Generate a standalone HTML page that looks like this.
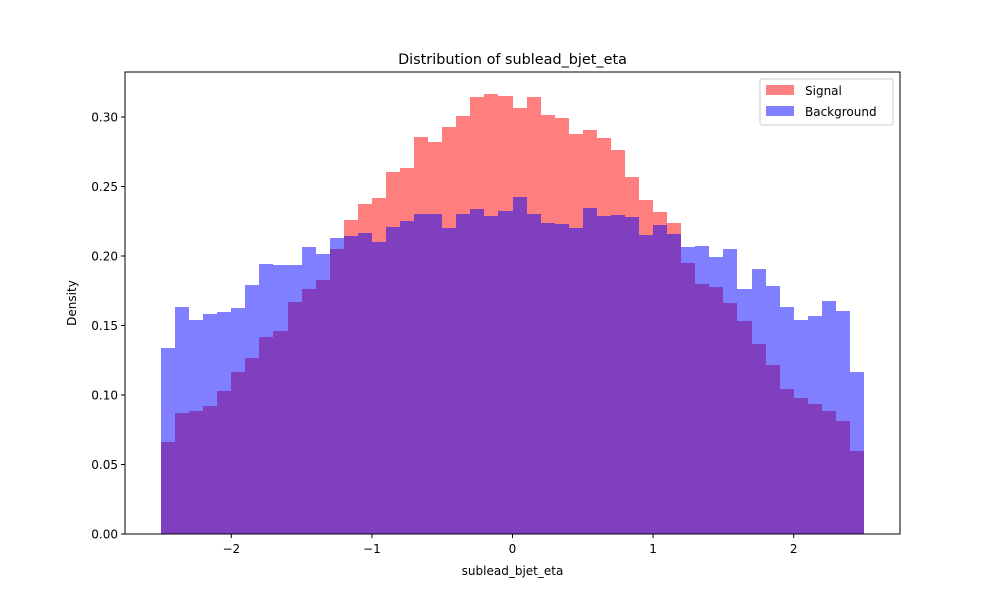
<!DOCTYPE html>
<html><head><meta charset="utf-8"><style>
body{margin:0;background:#fff;}
svg{font-family:"DejaVu Sans","Liberation Sans",sans-serif;}
</style></head><body>
<svg id="chart" width="1000" height="600" xmlns="http://www.w3.org/2000/svg">
<rect width="1000" height="600" fill="#fff"/>
<g id="bars" shape-rendering="crispEdges"></g>
<g id="axes"></g>
<text x="512.5" y="64" text-anchor="middle" font-size="14.4">Distribution of sublead_bjet_eta</text>
<text x="512.5" y="575" text-anchor="middle" font-size="12">sublead_bjet_eta</text>
<text transform="translate(76,303) rotate(-90)" text-anchor="middle" font-size="12">Density</text>
<g>
<rect x="760" y="79" width="133" height="46" rx="2" fill="#fff" fill-opacity="0.8" stroke="#ccc"/>
<g><rect x="766" y="85" width="28" height="10" fill="#ff8080"/><text x="805" y="95" font-size="12">Signal</text></g>
<g><rect x="766" y="106" width="28" height="10" fill="#8080ff"/><text x="805" y="116" font-size="12">Background</text></g>
</g>
</svg>
<script>
const binStart = -2.5;
const binWidth = 0.1;
const signal = [0.066,0.087,0.0885,0.092,0.103,0.1165,0.1265,0.1415,0.146,0.167,0.176,0.1827,0.205,0.226,0.2375,0.2417,0.2604,0.2633,0.2856,0.282,0.2928,0.3007,0.3144,0.3165,0.3151,0.3065,0.3144,0.3014,0.2993,0.2878,0.2906,0.2849,0.2763,0.2568,0.2403,0.2317,0.2237,0.195,0.1799,0.1777,0.1662,0.1532,0.1367,0.1216,0.1043,0.0978,0.0935,0.0885,0.0813,0.0597];
const background = [0.134,0.163,0.154,0.158,0.160,0.1625,0.179,0.194,0.1935,0.1935,0.2065,0.2015,0.213,0.2145,0.2165,0.21,0.2208,0.225,0.2302,0.2302,0.22,0.2302,0.2338,0.2288,0.2324,0.2424,0.2302,0.2237,0.223,0.2201,0.2345,0.2288,0.2295,0.228,0.2151,0.2223,0.2158,0.2065,0.2072,0.1993,0.205,0.1763,0.1906,0.1784,0.1633,0.154,0.1568,0.1676,0.1604,0.1165];
const xTicks = [-2,-1,0,1,2];
const xTickLabels = ["\u22122","\u22121","0","1","2"];
const yTicks = [0,0.05,0.10,0.15,0.20,0.25,0.30];
const yTickLabels = ["0.00","0.05","0.10","0.15","0.20","0.25","0.30"];

const L=125,R=900,T=72,B=534;
function xs(v){return 512.5+(v)*140.6;}
function ys(v){return B-v*1390;}
const NS="http://www.w3.org/2000/svg";
const bars=document.getElementById('bars');
const axes=document.getElementById('axes');
function mk(t,a,p){const e=document.createElementNS(NS,t);for(const k in a)e.setAttribute(k,a[k]);p.appendChild(e);return e;}
function drawSeries(arr,color,name){
  arr.forEach((v,i)=>{
    const x0=Math.round(xs(binStart+i*binWidth)),x1=Math.round(xs(binStart+(i+1)*binWidth));
    const y0=Math.round(ys(v));
    const r=mk('rect',{x:x0,y:y0,width:x1-x0,height:B-y0,fill:color,'fill-opacity':0.5},bars);
    
    
  });
}
drawSeries(signal,'#ff0000','signal');
drawSeries(background,'#0000ff','background');
mk('rect',{x:L,y:T,width:R-L,height:B-T,fill:'none',stroke:'#000','stroke-width':1},axes);
xTicks.forEach((v,i)=>{
  const x=xs(v);
  mk('line',{x1:x,x2:x,y1:B,y2:B+4,stroke:'#000'},axes);
  const t=mk('text',{x:x,y:B+19,'text-anchor':'middle','font-size':12},axes);
  t.textContent=xTickLabels[i];
  
  
});
yTicks.forEach((v,i)=>{
  const y=ys(v);
  mk('line',{x1:L-4,x2:L,y1:y,y2:y,stroke:'#000'},axes);
  const t=mk('text',{x:L-7,y:y+4.5,'text-anchor':'end','font-size':12},axes);
  t.textContent=yTickLabels[i];
  
  
});
</script>
</body></html>
